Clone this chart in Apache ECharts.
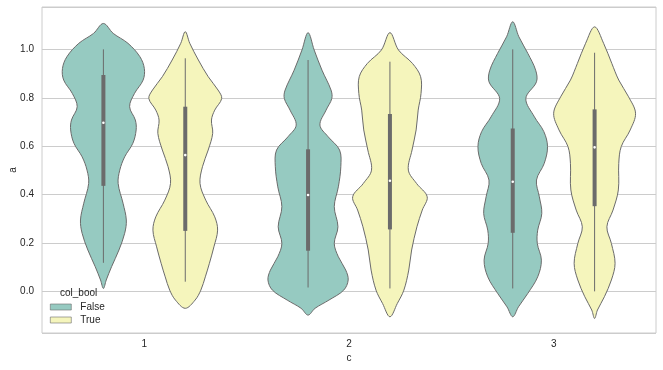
<!DOCTYPE html>
<html><head><meta charset="utf-8">
<script src="https://cdn.jsdelivr.net/npm/echarts@6/dist/echarts.min.js"></script>
<style>html,body{margin:0;padding:0;background:#fff}#c{width:663px;height:370px}</style>
</head><body><div id="c"></div>
<script>
const categories = ['1', '2', '3'];
const hues = ['False', 'True'];
const yTicks = [0.0, 0.2, 0.4, 0.6, 0.8, 1.0];

// violin outlines, top to bottom: [value of a, relative density width]
const violin1False = [[1.107,0],[1.066,0.24],[1.025,0.60],[0.970,0.89],[0.921,1.0],[0.873,0.97],[0.818,0.76],[0.763,0.64],[0.708,0.78],[0.667,0.80],[0.612,0.72],[0.556,0.52],[0.501,0.40],[0.446,0.36],[0.364,0.48],[0.295,0.56],[0.240,0.52],[0.171,0.38],[0.102,0.20],[0.047,0.07],[0.012,0]];
const violin1True = [[1.073,0],[1.025,0.11],[0.956,0.32],[0.887,0.56],[0.832,0.80],[0.797,0.89],[0.749,0.72],[0.708,0.64],[0.653,0.67],[0.584,0.56],[0.515,0.42],[0.446,0.36],[0.377,0.50],[0.308,0.72],[0.253,0.79],[0.184,0.70],[0.116,0.59],[0.060,0.49],[0.005,0.38],[-0.036,0.24],[-0.070,0]];
const violin2False = [[1.069,0],[0.997,0.15],[0.914,0.34],[0.832,0.56],[0.797,0.58],[0.749,0.44],[0.687,0.29],[0.639,0.49],[0.584,0.77],[0.515,0.80],[0.432,0.74],[0.350,0.64],[0.267,0.73],[0.198,0.64],[0.143,0.74],[0.088,0.92],[0.047,0.98],[0.005,0.87],[-0.036,0.51],[-0.070,0.17],[-0.098,0]];
const violin2True = [[1.069,0],[0.997,0.21],[0.942,0.55],[0.887,0.75],[0.818,0.76],[0.749,0.69],[0.667,0.64],[0.584,0.54],[0.501,0.45],[0.446,0.65],[0.391,0.91],[0.336,0.79],[0.267,0.66],[0.171,0.53],[0.088,0.46],[0.005,0.34],[-0.050,0.18],[-0.105,0]];
const violin3False = [[1.114,0],[1.052,0.15],[0.983,0.37],[0.914,0.56],[0.866,0.58],[0.797,0.32],[0.721,0.53],[0.660,0.76],[0.598,0.85],[0.529,0.77],[0.460,0.58],[0.391,0.65],[0.322,0.71],[0.253,0.61],[0.198,0.60],[0.129,0.70],[0.060,0.61],[-0.008,0.37],[-0.064,0.14],[-0.105,0]];
const violin3True = [[1.093,0],[1.025,0.22],[0.942,0.42],[0.873,0.59],[0.804,0.83],[0.736,1.0],[0.667,0.87],[0.598,0.65],[0.529,0.59],[0.419,0.58],[0.336,0.45],[0.267,0.30],[0.198,0.41],[0.116,0.50],[0.047,0.41],[-0.022,0.24],[-0.077,0.07],[-0.112,0]];

// inner box: [whisker low, q1, median, q3, whisker high]
const box1False = [0.118, 0.436, 0.697, 0.894, 1.0];
const box1True  = [0.040, 0.250, 0.563, 0.763, 0.963];
const box2False = [0.016, 0.168, 0.398, 0.587, 0.956];
const box2True  = [0.012, 0.256, 0.457, 0.733, 0.949];
const box3False = [0.012, 0.242, 0.453, 0.673, 1.0];
const box3True  = [0.000, 0.352, 0.595, 0.752, 0.986];

const profiles = [[violin1False, violin2False, violin3False], [violin1True, violin2True, violin3True]];
const boxes = [[box1False, box2False, box3False], [box1True, box2True, box3True]];
const colors = ['#96cac1', '#f5f5bc'];
const edge = '#6b6b6b';
const FONT = '"Liberation Sans", Arial, sans-serif';
const TXT = '#262626';

function makeSeries(h) {
  const offset = h === 0 ? -0.2 : 0.2;
  return {
    type: 'custom',
    name: hues[h],
    itemStyle: { color: colors[h], borderColor: edge, borderWidth: 1 },
    encode: { x: 0, y: 1 },
    data: categories.map((c, i) => [i, boxes[h][i][2]]),
    renderItem(params, api) {
      const i = api.value(0);
      const band = api.size([1, 0])[0];
      const cx = api.coord([i, 0])[0] + offset * band;
      const half = 0.2 * band;
      const prof = profiles[h][i];
      const Y = v => api.coord([i, v])[1];
      const pts = [];
      for (let k = prof.length - 1; k >= 0; k--) pts.push([cx + prof[k][1] * half, Y(prof[k][0])]);
      for (let k = 1; k < prof.length - 1; k++) pts.push([cx - prof[k][1] * half, Y(prof[k][0])]);
      const b = boxes[h][i];
      return {
        type: 'group',
        children: [
          { type: 'polygon', shape: { points: pts, smooth: 0.35 }, style: { fill: colors[h], stroke: edge, lineWidth: 1 } },
          { type: 'line', shape: { x1: cx, y1: Y(b[0]), x2: cx, y2: Y(b[4]) }, style: { stroke: edge, lineWidth: 1 } },
          { type: 'rect', shape: { x: cx - 2, y: Y(b[3]), width: 4, height: Y(b[1]) - Y(b[3]) }, style: { fill: edge } },
          { type: 'circle', shape: { cx: cx, cy: Y(b[2]), r: 1.3 }, style: { fill: '#ffffff' } }
        ]
      };
    }
  };
}

const chart = echarts.init(document.getElementById('c'), null, { renderer: 'canvas' });
chart.setOption({
  animation: false,
  backgroundColor: '#ffffff',
  textStyle: { fontFamily: FONT },
  title: { text: 'col_bool', left: 60, top: 288, padding: 0, textStyle: { fontSize: 10, fontWeight: 'normal', color: TXT, fontFamily: FONT } },
  legend: {
    data: hues, orient: 'vertical', left: 50, top: 302, padding: 0, itemGap: 3,
    icon: 'rect', itemWidth: 21, itemHeight: 6,
    itemStyle: { borderColor: edge, borderWidth: 0.6 },
    textStyle: { fontSize: 10, color: TXT, fontFamily: FONT, padding: [0, 0, 0, 4] }
  },
  grid: { left: 42, right: 7, top: 7, bottom: 37, show: true, borderColor: '#cccccc', borderWidth: 1, containLabel: false, outerBoundsMode: 'none' },
  xAxis: {
    type: 'category', data: categories, boundaryGap: true,
    name: 'c', nameLocation: 'middle', nameGap: 20, nameMoveOverlap: false,
    nameTextStyle: { fontSize: 10, color: TXT, fontFamily: FONT },
    axisLine: { show: false }, axisTick: { show: false },
    axisLabel: { margin: 6, fontSize: 10, color: TXT, fontFamily: FONT },
    splitLine: { show: false }
  },
  yAxis: {
    type: 'value', min: -0.172, max: 1.175, splitNumber: 7, minInterval: 0.2, maxInterval: 0.2,
    name: 'a', nameLocation: 'middle', nameGap: 24, nameRotate: 90, nameMoveOverlap: false,
    nameTextStyle: { fontSize: 10, color: TXT, fontFamily: FONT },
    axisLine: { show: false }, axisTick: { show: false },
    axisLabel: { margin: 8, fontSize: 10, color: TXT, fontFamily: FONT, showMinLabel: false, showMaxLabel: false,
      formatter: v => (yTicks.some(t => Math.abs(t - v) < 1e-6) ? v.toFixed(1) : '') },
    splitLine: { show: true, lineStyle: { color: '#cccccc', width: 1 } }
  },
  series: [makeSeries(0), makeSeries(1)]
});
</script></body></html>
